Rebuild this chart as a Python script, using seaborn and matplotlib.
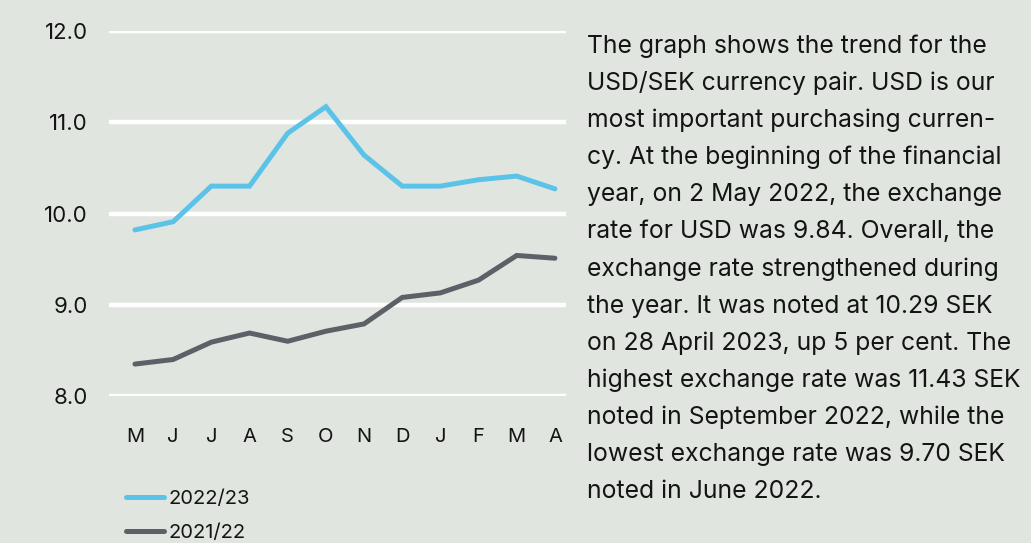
import matplotlib
matplotlib.use("Agg")
import matplotlib.pyplot as plt
from matplotlib.lines import Line2D
import seaborn as sns
import pandas as pd

# Monthly USD/SEK rate, May to April
months = ["M", "J", "J", "A", "S", "O", "N", "D", "J", "F", "M", "A"]
rate_2022_23 = [9.82, 9.91, 10.30, 10.30, 10.88, 11.17, 10.64, 10.30, 10.30, 10.37, 10.41, 10.27]
rate_2021_22 = [8.35, 8.40, 8.59, 8.69, 8.60, 8.71, 8.79, 9.08, 9.13, 9.27, 9.54, 9.51]
series_names = ["2022/23", "2021/22"]
y_ticks = [8.0, 9.0, 10.0, 11.0, 12.0]

body_lines = [
    "The graph shows the trend for the",
    "USD/SEK currency pair. USD is our",
    "most important purchasing curren-",
    "cy. At the beginning of the financial",
    "year, on 2 May 2022, the exchange",
    "rate for USD was 9.84. Overall, the",
    "exchange rate strengthened during",
    "the year. It was noted at 10.29 SEK",
    "on 28 April 2023, up 5 per cent. The",
    "highest exchange rate was 11.43 SEK",
    "noted in September 2022, while the",
    "lowest exchange rate was 9.70 SEK",
    "noted in June 2022.",
]

BG = "#e1e5e0"
BLUE = "#5bc3e8"
DARK = "#5e6067"
INK = "#141414"

sns.set_theme(style="white")
plt.rcParams["font.family"] = ["Inter", "DejaVu Sans"]

idx = list(range(len(months)))
df = pd.DataFrame({
    "month": idx * 2,
    "rate": rate_2022_23 + rate_2021_22,
    "season": [series_names[0]] * len(idx) + [series_names[1]] * len(idx),
})

fig = plt.figure(figsize=(10.31, 5.43), dpi=100, facecolor=BG)
ax = fig.add_axes([109 / 1031, 1 - 396 / 543, (566 - 109) / 1031, 365 / 543])
ax.set_facecolor(BG)

# white horizontal gridlines
for t in y_ticks:
    ax.axhline(t, color="white", lw=3.2, zorder=0, solid_capstyle="butt")

sns.lineplot(
    data=df, x="month", y="rate", hue="season",
    palette={series_names[0]: BLUE, series_names[1]: DARK},
    linewidth=3.6, legend=False, ax=ax,
)
for ln in ax.lines:
    ln.set_solid_capstyle("round")
    ln.set_solid_joinstyle("miter")

ax.set_xlim(-0.68, 11.29)
ax.set_ylim(8.0, 12.0)
ax.set_xticks(idx)
ax.set_xticklabels(months)
ax.set_yticks(y_ticks)
ax.set_yticklabels([f"{t:.1f}" for t in y_ticks])
ax.tick_params(axis="x", length=0, pad=23, labelsize=14.5, labelcolor=INK)
ax.tick_params(axis="y", length=0, pad=15, labelsize=16, labelcolor=INK)
ax.set_xlabel("")
ax.set_ylabel("")
for s in ax.spines.values():
    s.set_visible(False)
ax.grid(False)

handles = [
    Line2D([0], [0], color=BLUE, lw=3.6, solid_capstyle="round"),
    Line2D([0], [0], color=DARK, lw=3.6, solid_capstyle="round"),
]
fig.legend(
    handles, series_names, loc="upper left",
    bbox_to_anchor=(126 / 1031, 1 - 490 / 543),
    frameon=False, fontsize=14.5, handlelength=1.9, handletextpad=0.2,
    labelspacing=0.78, borderpad=0, borderaxespad=0, labelcolor=INK,
)

# explanatory paragraph on the right
for i, line in enumerate(body_lines):
    y = 53 + i * 37.1
    fig.text(587 / 1031, 1 - y / 543, line, fontsize=17.8, color=INK,
             ha="left", va="baseline")

fig.savefig("out.png", dpi=100, facecolor=BG)
